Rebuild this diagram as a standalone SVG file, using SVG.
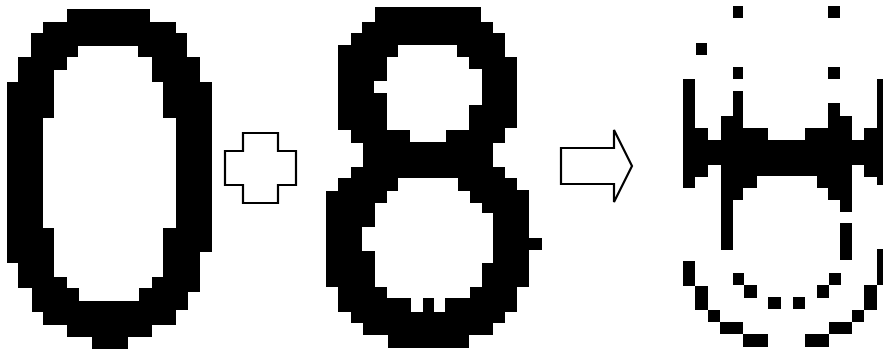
<svg xmlns="http://www.w3.org/2000/svg" width="883" height="353" viewBox="0 0 883 353">
<style>
.px{fill:#000;fill-rule:evenodd}
.ol{fill:#fff;stroke:#000;stroke-width:2.2;stroke-linejoin:miter}
</style>
<rect width="883" height="353" fill="#fff"/>
<g id="digit0">
<path class="px" d="M67,9H150V22H176V33H187V57H200V82H212V252H200V292H188V310H176V325H152V337H128V349H92V337H67V325H43V312H32V288H18V263H7V82H18V57H31V33H43V22H67Z M78,46H138V57H152V82H163V118H176V228H163V277H152V288H139V301H79V288H67V277H54V228H43V118H54V70H67V57H78Z"/>
</g>
<g id="plus">
<path class="ol" d="M243,133H278V151H296V185H278V203H243V185H225V151H243Z"/>
</g>
<g id="digit8">
<path class="px" d="M375,7H481V22H493V33H505V57H517V128H505V143H493V167H505V178H517V190H529V238H542V250H529V287H517V312H505V323H493V335H469V348H388V335H363V323H351V312H338V287H326V191H338V178H351V167H363V143H351V130H338V45H351V33H362V22H375Z M398,45H457V57H469V69H482V105H469V130H446V142H410V130H387V93H374V81H387V57H398Z M398,178H458V191H470V203H482V213H493V263H482V287H470V298H445V312H434V298H423V312H411V298H387V287H375V251H362V227H375V203H387V191H398Z"/>
</g>
<g id="arrow">
<path class="ol" d="M561,148H614V130L632,166L614,202V184H561Z"/>
</g>
<g id="result" fill="#000">
<rect x="733" y="6" width="10" height="12"/>
<rect x="828" y="6" width="12" height="12"/>
<rect x="696" y="43" width="11" height="12"/>
<rect x="733" y="67" width="10" height="12"/>
<rect x="828" y="67" width="12" height="12"/>
<rect x="683" y="79" width="12" height="109"/>
<rect x="695" y="128" width="13" height="49"/>
<rect x="708" y="140" width="13" height="25"/>
<rect x="721" y="116" width="12" height="134"/>
<rect x="733" y="91" width="10" height="109"/>
<rect x="743" y="128" width="14" height="60"/>
<rect x="757" y="128" width="11" height="48"/>
<rect x="768" y="140" width="37" height="36"/>
<rect x="805" y="128" width="12" height="48"/>
<rect x="817" y="128" width="11" height="60"/>
<rect x="828" y="103" width="12" height="97"/>
<rect x="840" y="116" width="12" height="96"/>
<rect x="852" y="140" width="12" height="25"/>
<rect x="864" y="128" width="13" height="49"/>
<rect x="877" y="79" width="6" height="106"/>
<rect x="840" y="223" width="12" height="37"/>
<rect x="683" y="261" width="12" height="25"/>
<rect x="695" y="286" width="13" height="24"/>
<rect x="708" y="310" width="12" height="12"/>
<rect x="720" y="322" width="23" height="12"/>
<rect x="743" y="334" width="25" height="13"/>
<rect x="733" y="273" width="11" height="12"/>
<rect x="744" y="285" width="13" height="13"/>
<rect x="768" y="297" width="13" height="12"/>
<rect x="793" y="297" width="12" height="12"/>
<rect x="817" y="285" width="12" height="13"/>
<rect x="829" y="273" width="12" height="12"/>
<rect x="805" y="334" width="24" height="13"/>
<rect x="829" y="322" width="23" height="12"/>
<rect x="852" y="310" width="12" height="12"/>
<rect x="864" y="285" width="13" height="25"/>
<rect x="877" y="249" width="6" height="36"/>
</g>
</svg>
